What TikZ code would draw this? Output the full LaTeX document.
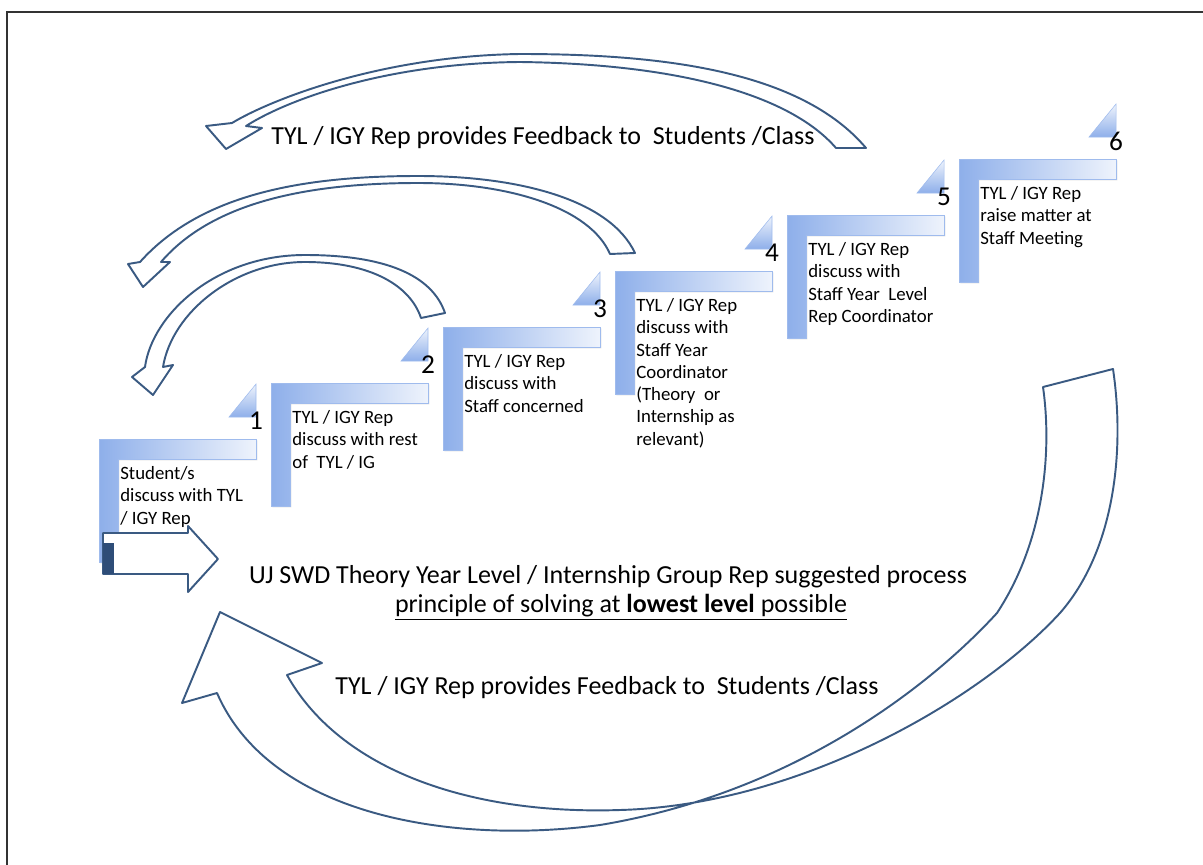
\documentclass[tikz,border=0pt]{standalone}
\usepackage{fontspec}
\setmainfont{Carlito}
\usetikzlibrary{shadows}
\definecolor{stepblue}{HTML}{8EAFEA}
\definecolor{steppale}{HTML}{EEF3FC}
\definecolor{arrowline}{HTML}{3A5A82}
\definecolor{arrowdark}{HTML}{2E4D78}
\tikzstyle{stair} = [
    left color=stepblue,
    right color=steppale,
    draw=stepblue!85!white,
    line width=0.3pt,
    drop shadow={opacity=0.25, shadow xshift=0.8pt, shadow yshift=-0.8pt}
]
\tikzstyle{wedge} = [
    top color=steppale,
    bottom color=stepblue,
    draw=stepblue!85!white,
    line width=0.3pt
]
\tikzstyle{hollow} = [
    draw=arrowline,
    fill=white,
    line width=1.1pt,
    line join=round
]
\tikzstyle{pageline} = [draw=black!80, line width=0.9pt]
\tikzstyle{stairnum}  = [font=\fontsize{15.5}{16}\selectfont, inner sep=0pt]
\tikzstyle{stairtext} = [font=\fontsize{10.7}{12.7}\selectfont, align=left, anchor=north west, inner sep=0pt]
\tikzstyle{banner}    = [font=\fontsize{14.8}{17}\selectfont, inner sep=0pt]

\begin{document}
\begin{tikzpicture}[x=0.02cm, y=-0.02cm]
\useasboundingbox (0,0) rectangle (1203,865);
\draw[pageline] (1203,12) -- (7,12) -- (7,865);

% feedback arrows
\draw[hollow] (866,148) -- (836,148)
    .. controls (790,95) and (680,64) .. (520,62)
    .. controls (390,63) and (290,98) .. (246,126)
    -- (262,128) -- (226,149) -- (206,126) -- (232,123)
    .. controls (270,100) and (380,56) .. (520,54)
    .. controls (660,54) and (800,70) .. (866,148) -- cycle;
\draw[hollow] (635,253) -- (610,254)
    .. controls (590,208) and (510,183) .. (418,183)
    .. controls (300,183) and (210,205) .. (161,262)
    -- (170,262) -- (143,287) -- (128,264) -- (140,262)
    .. controls (200,195) and (300,176) .. (418,176)
    .. controls (520,176) and (610,200) .. (635,253) -- cycle;
\draw[hollow] (445,313) -- (421,318)
    .. controls (410,285) and (370,262) .. (305,262)
    .. controls (235,262) and (172,312) .. (163,367)
    -- (173,365) -- (153,395) -- (132,377) -- (145,367)
    .. controls (152,315) and (215,255) .. (305,255)
    .. controls (385,255) and (432,275) .. (445,313) -- cycle;
\draw[hollow] (1043,387)
    .. controls (1052,450) and (1045,540) .. (997,613)
    .. controls (945,670) and (810,790) .. (600,825)
    .. controls (450,845) and (270,815) .. (217,693)
    -- (182,703) -- (220,612) -- (322,663) -- (287,675)
    .. controls (340,770) and (470,815) .. (620,810)
    .. controls (800,805) and (980,700) .. (1060,613)
    .. controls (1115,550) and (1125,450) .. (1113,369)
    -- cycle;

% steps
\foreach \i in {0,...,5} {
    \pgfmathtruncatemacro{\n}{\i+1}
    \begin{scope}[shift={(99+172*\i,439-56*\i)}]
        \path[stair] (0,0) -- (157,0) -- (157,20) -- (19,20) -- (19,123) -- (0,123) -- cycle;
        \path[wedge] (157,-22) -- (157,-55) -- (130,-22) -- cycle;
        \node[stairnum] (num\n) at (157,-18) {\n};
    \end{scope}
}

\node[stairtext] (txt1) at (120,466) {Student/s\\discuss with TYL\\/ IGY Rep};
\node[stairtext] (txt2) at (292,410) {TYL / IGY Rep\\discuss with rest\\of\ \ TYL / IG};
\node[stairtext] (txt3) at (464,354) {TYL / IGY Rep\\discuss with\\Staff concerned};
\node[stairtext] (txt4) at (636,298) {TYL / IGY Rep\\discuss with\\Staff Year\\Coordinator\\(Theory\ \ or\\Internship as\\relevant)};
\node[stairtext] (txt5) at (808,242) {TYL / IGY Rep\\discuss with\\Staff Year\ \ Level\\Rep Coordinator};
\node[stairtext] (txt6) at (980,186) {TYL / IGY Rep\\raise matter at\\Staff Meeting};

% start arrow
\draw[hollow] (103,533) -- (188,533) -- (188,526) -- (218,559) -- (188,592) -- (188,574) -- (103,574) -- cycle;
\fill[arrowdark] (103,543) rectangle (114,574);

\node[banner] (fbtop)    at (543,138) {TYL / IGY Rep provides Feedback to\ \ Students /Class};
\node[banner] (title)    at (608,577) {UJ SWD Theory Year Level / Internship Group Rep suggested process};
\node[banner] (motto)    at (621,607) {\underline{principle of solving at \textbf{lowest level} possible}};
\node[banner] (fbbottom) at (607,688) {TYL / IGY Rep provides Feedback to\ \ Students /Class};
\end{tikzpicture}
\end{document}
